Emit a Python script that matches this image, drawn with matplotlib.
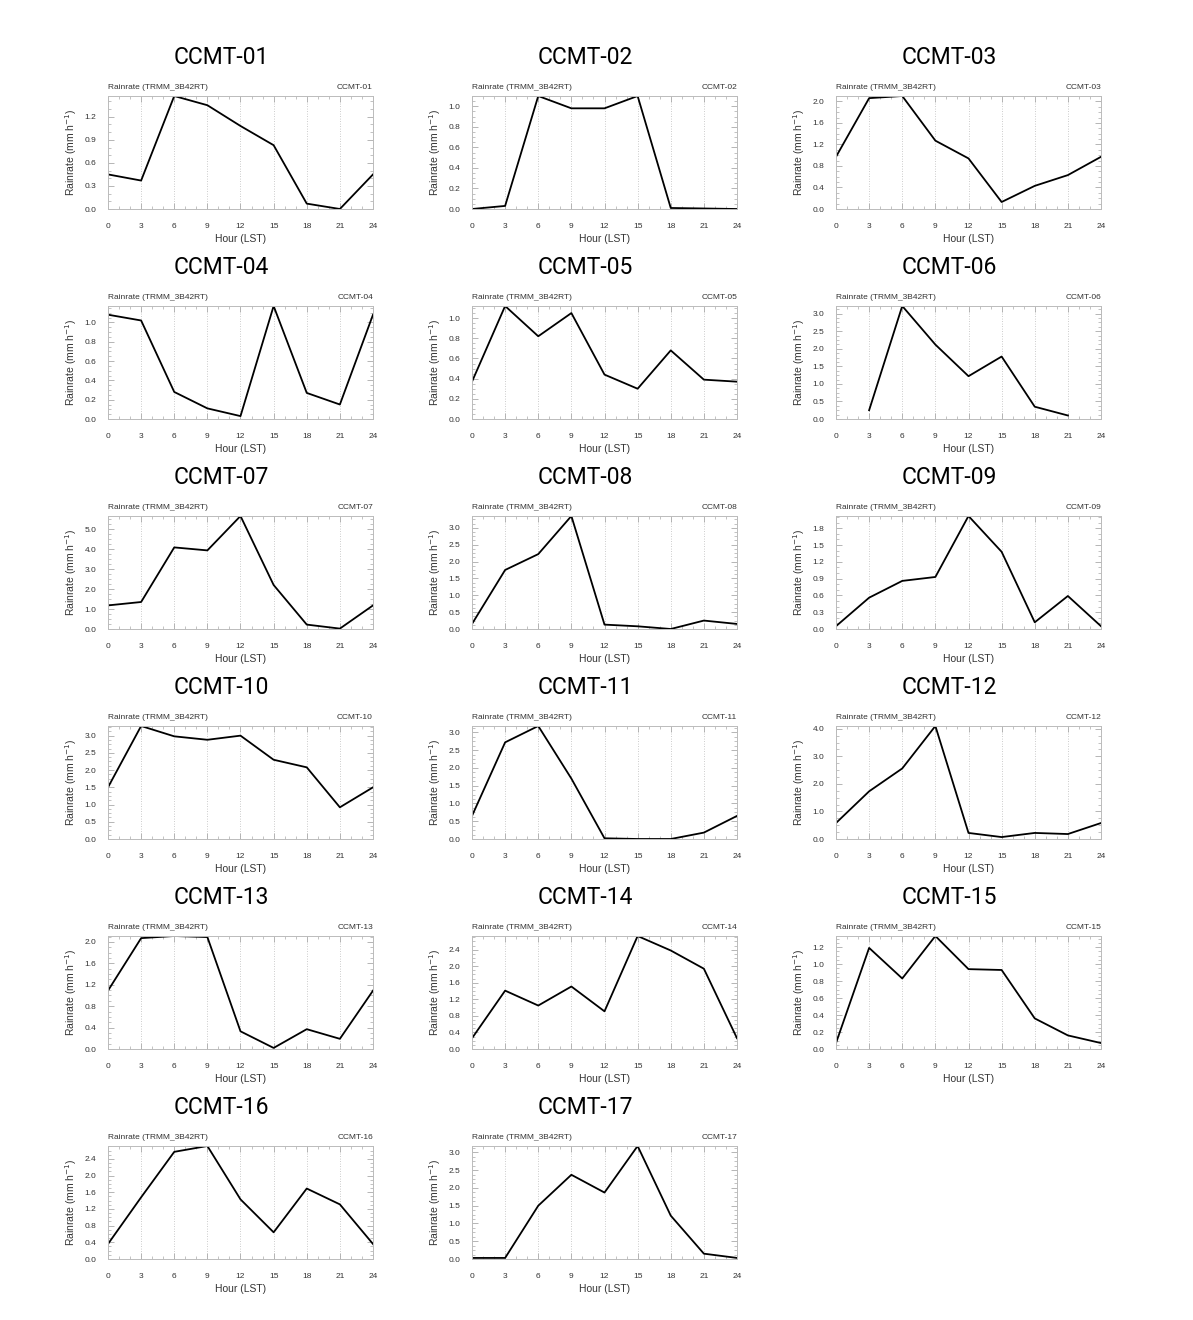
import numpy as np
import matplotlib
matplotlib.use("Agg")
import matplotlib.pyplot as plt
from matplotlib.ticker import MultipleLocator, FormatStrFormatter

# hours (LST) of the composite diurnal cycle
hours = [0, 3, 6, 9, 12, 15, 18, 21, 24]

# mean rain rate (mm/h) per station
ccmt_01 = [0.45, 0.37, 1.47, 1.35, 1.08, 0.83, 0.07, 0.00, 0.45]
ccmt_02 = [0.00, 0.03, 1.10, 0.98, 0.98, 1.10, 0.01, 0.005, 0.00]
ccmt_03 = [0.97, 2.06, 2.10, 1.27, 0.94, 0.13, 0.43, 0.63, 0.97]
ccmt_04 = [1.08, 1.02, 0.28, 0.11, 0.03, 1.17, 0.27, 0.15, 1.08]
ccmt_05 = [0.37, 1.12, 0.82, 1.05, 0.44, 0.30, 0.68, 0.39, 0.37]
ccmt_06 = [np.nan, 0.25, 3.22, 2.12, 1.22, 1.78, 0.35, 0.10, np.nan]
ccmt_07 = [1.18, 1.35, 4.08, 3.93, 5.65, 2.20, 0.22, 0.02, 1.18]
ccmt_08 = [0.15, 1.75, 2.22, 3.35, 0.13, 0.08, 0.00, 0.25, 0.15]
ccmt_09 = [0.05, 0.56, 0.86, 0.93, 2.02, 1.38, 0.12, 0.59, 0.05]
ccmt_10 = [1.50, 3.28, 2.98, 2.88, 3.00, 2.30, 2.08, 0.92, 1.50]
ccmt_11 = [0.65, 2.72, 3.18, 1.70, 0.02, 0.00, 0.00, 0.18, 0.65]
ccmt_12 = [0.58, 1.73, 2.56, 4.10, 0.22, 0.07, 0.22, 0.18, 0.58]
ccmt_13 = [1.09, 2.07, 2.11, 2.09, 0.33, 0.02, 0.37, 0.19, 1.09]
ccmt_14 = [0.26, 1.41, 1.05, 1.51, 0.91, 2.73, 2.38, 1.94, 0.26]
ccmt_15 = [0.07, 1.19, 0.83, 1.33, 0.94, 0.93, 0.36, 0.16, 0.07]
ccmt_16 = [0.36, 1.48, 2.57, 2.71, 1.43, 0.64, 1.69, 1.31, 0.36]
ccmt_17 = [0.03, 0.03, 1.50, 2.37, 1.87, 3.18, 1.22, 0.15, 0.03]

stations = ["CCMT-%02d" % i for i in range(1, 18)]
series = [ccmt_01, ccmt_02, ccmt_03, ccmt_04, ccmt_05, ccmt_06, ccmt_07,
          ccmt_08, ccmt_09, ccmt_10, ccmt_11, ccmt_12, ccmt_13, ccmt_14,
          ccmt_15, ccmt_16, ccmt_17]
y_steps = [0.3, 0.2, 0.4, 0.2, 0.2, 0.5, 1.0, 0.5, 0.3, 0.5, 0.5, 1.0,
           0.4, 0.4, 0.2, 0.4, 0.5]

W, H = 1193, 1320
fig = plt.figure(figsize=(W / 100, H / 100), dpi=100)
fig.patch.set_facecolor("white")

col_left = [108, 472, 836]
row_top = [96, 306, 516, 726, 936, 1146]
ax_w, ax_h = 265, 113
small_font = "Liberation Sans"

for i, (name, vals, step) in enumerate(zip(stations, series, y_steps)):
    r, c = divmod(i, 3)
    x0, y0 = col_left[c], row_top[r]
    ax = fig.add_axes([x0 / W, 1 - (y0 + ax_h) / H, ax_w / W, ax_h / H])

    vals = np.array(vals, dtype=float)
    ax.plot(hours, vals, color="black", linewidth=1.3)

    ax.set_xlim(0, 24)
    ax.set_ylim(0, np.nanmax(vals))
    ax.xaxis.set_major_locator(MultipleLocator(3))
    ax.xaxis.set_minor_locator(MultipleLocator(1))
    ax.yaxis.set_major_locator(MultipleLocator(step))
    ax.yaxis.set_minor_locator(MultipleLocator(step / (3 if step == 0.3 else 4)))
    ax.yaxis.set_major_formatter(FormatStrFormatter("%.1f"))

    ax.grid(axis="x", which="major", linestyle=(0, (1, 2)), color="#bbbbbb",
            linewidth=0.6)
    ax.tick_params(which="both", direction="in", top=True, right=True,
                   color="#aaaaaa", labelcolor="#333333", labelsize=6)
    ax.tick_params(axis="x", which="major", pad=10)
    ax.tick_params(axis="y", which="major", pad=8.5)
    ax.tick_params(which="major", length=4, width=0.6)
    ax.tick_params(which="minor", length=2, width=0.5)
    for lbl in ax.get_xticklabels() + ax.get_yticklabels():
        lbl.set_family(small_font)
    for sp in ax.spines.values():
        sp.set_color("#bbbbbb")
        sp.set_linewidth(0.7)

    ax.set_xlabel("Hour (LST)", fontsize=7.5, color="#333333",
                  family=small_font, labelpad=3)
    ax.set_ylabel("Rainrate (mm h$^{-1}$)", fontsize=7.5, color="#333333",
                  family=small_font, labelpad=4)
    ax.set_title("Rainrate (TRMM_3B42RT)", loc="left", fontsize=6,
                 color="#333333", family=small_font, pad=6)
    ax.set_title(name, loc="right", fontsize=6, color="#333333",
                 family=small_font, pad=5)

    # big panel heading, centred over the panel including the y label
    fig.text((x0 + ax_w / 2 - 19) / W, 1 - (y0 - 38) / H, name,
             ha="center", va="center", fontsize=16.5, family="Roboto",
             color="black")

fig.savefig("out.png", dpi=100, facecolor="white")
